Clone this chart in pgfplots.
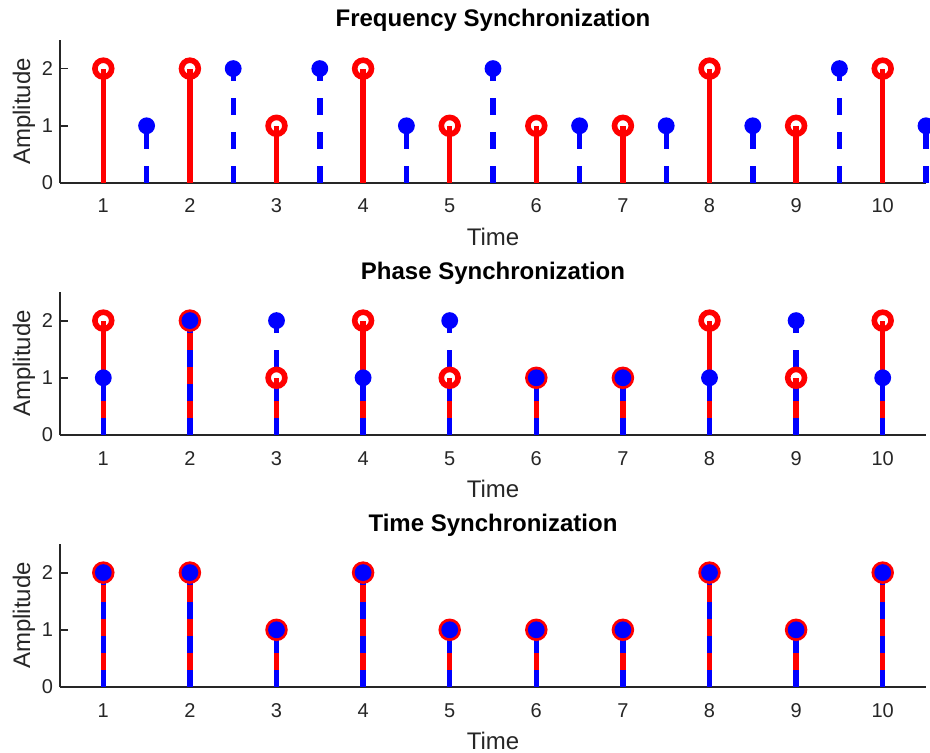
\documentclass[border=0pt]{standalone}
\usepackage{fontspec}
\setmainfont{Liberation Sans}
\usepackage{pgfplots}
\pgfplotsset{compat=1.18}

\definecolor{axgray}{rgb}{0.15,0.15,0.15}
\definecolor{mred}{rgb}{1,0,0}
\definecolor{mblue}{rgb}{0,0,1}

\pgfplotsset{
  every axis title shift=0pt,
  panel/.style={
    scale only axis, width=433pt, height=71.5pt,
    anchor=south west,
    xmin=0.5, xmax=10.5, ymin=0, ymax=2.5,
    xtick={1,...,10}, ytick={0,1,2},
    axis x line*=bottom, axis y line*=left,
    axis line style={axgray, line width=0.9pt, -},
    tick style={axgray, line width=0.9pt},
    tick align=inside, major tick length=4pt,
    ticklabel style={font=\fontsize{10}{12}\selectfont, text=axgray},
    /pgf/number format/assume math mode=true,
    xticklabel style={anchor=base, yshift=-15pt},
    xlabel={Time}, ylabel={Amplitude},
    label style={font=\fontsize{12}{14}\selectfont, text=axgray},
    xlabel style={at={([yshift=-31pt]axis description cs:0.5,0)}, anchor=base},
    ylabel style={at={([xshift=-15pt]axis description cs:0,0.5)}, anchor=base},
    title style={at={(axis description cs:0.5,1)}, anchor=base, yshift=6.5pt,
      font=\bfseries\fontsize{12}{14}\selectfont},
    clip=false,
  },
  redstem/.style={ycomb, mred, line width=2.7pt, mark=o, mark size=4.2pt,
    mark options={solid, line width=2.8pt}},
  bluestem/.style={ycomb, mblue, line width=2.7pt, dash pattern=on 8.5pt off 8.5pt,
    mark=*, mark size=3.6pt, mark options={solid, fill=mblue, line width=1.2pt}},
}

\begin{document}
\begin{tikzpicture}
% frequency
\begin{axis}[panel, at={(30pt,-91.5pt)}, title={Frequency Synchronization}]
\addplot[redstem] coordinates {(1,2) (2,2) (3,1) (4,2) (5,1) (6,1) (7,1) (8,2) (9,1) (10,2)};
\addplot[bluestem] coordinates {(1.5,1) (2.5,2) (3.5,2) (4.5,1) (5.5,2) (6.5,1) (7.5,1) (8.5,1) (9.5,2) (10.5,1)};
\end{axis}
% phase
\begin{axis}[panel, at={(30pt,-217.5pt)}, title={Phase Synchronization}]
\addplot[redstem] coordinates {(1,2) (2,2) (3,1) (4,2) (5,1) (6,1) (7,1) (8,2) (9,1) (10,2)};
\addplot[bluestem] coordinates {(1,1) (2,2) (3,2) (4,1) (5,2) (6,1) (7,1) (8,1) (9,2) (10,1)};
\end{axis}
% time
\begin{axis}[panel, at={(30pt,-343.5pt)}, title={Time Synchronization}]
\addplot[redstem] coordinates {(1,2) (2,2) (3,1) (4,2) (5,1) (6,1) (7,1) (8,2) (9,1) (10,2)};
\addplot[bluestem] coordinates {(1,2) (2,2) (3,1) (4,2) (5,1) (6,1) (7,1) (8,2) (9,1) (10,2)};
\end{axis}
\pgfresetboundingbox
\path (0,0) rectangle (465pt,-376.5pt);
\end{tikzpicture}
\end{document}
